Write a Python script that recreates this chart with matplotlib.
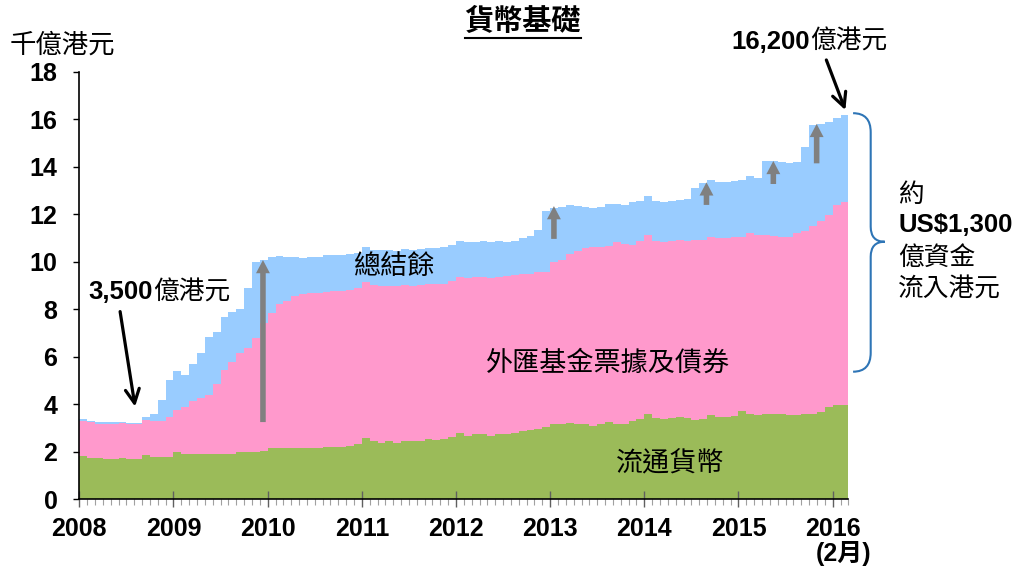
import numpy as np
import matplotlib.pyplot as plt
from matplotlib.patches import FancyArrowPatch, PathPatch, ArrowStyle
from matplotlib.path import Path
from matplotlib.lines import Line2D

plt.rcParams["font.family"] = ["Liberation Sans", "Noto Sans CJK TC"]
plt.rcParams["font.size"] = 18

GREEN, PINK, BLUE = "#9BBB59", "#FF99CC", "#99CCFF"
GREY, BRACE = "#808080", "#2E75B6"

# monthly data, Jan 2008 - Feb 2016 (千億港元)
start_year = 2008
currency = [  # 流通貨幣
    1.82, 1.75, 1.72, 1.69, 1.69, 1.72, 1.69, 1.69, 1.85, 1.76, 1.76, 1.78,
    1.99, 1.89, 1.89, 1.92, 1.89, 1.89, 1.89, 1.92, 1.99, 1.99, 1.99, 2.03,
    2.14, 2.17, 2.17, 2.17, 2.14, 2.17, 2.17, 2.21, 2.21, 2.21, 2.24, 2.31,
    2.56, 2.44, 2.39, 2.44, 2.39, 2.44, 2.44, 2.44, 2.52, 2.48, 2.53, 2.61,
    2.80, 2.68, 2.73, 2.73, 2.68, 2.76, 2.73, 2.80, 2.87, 2.90, 2.94, 3.04,
    3.15, 3.15, 3.22, 3.15, 3.15, 3.10, 3.15, 3.25, 3.18, 3.18, 3.29, 3.39,
    3.60, 3.42, 3.39, 3.42, 3.46, 3.42, 3.35, 3.39, 3.53, 3.46, 3.46, 3.50,
    3.71, 3.57, 3.56, 3.60, 3.57, 3.57, 3.53, 3.56, 3.60, 3.57, 3.66, 3.88,
    3.95, 3.95]
fx_bills = [  # 外匯基金票據及債券
    1.46, 1.50, 1.46, 1.49, 1.49, 1.49, 1.49, 1.49, 1.47, 1.52, 1.52, 1.67,
    1.78, 1.99, 2.23, 2.34, 2.52, 2.97, 3.56, 3.85, 4.17, 4.38, 4.79, 5.37,
    5.71, 6.05, 6.16, 6.37, 6.50, 6.53, 6.53, 6.53, 6.56, 6.57, 6.57, 6.57,
    6.57, 6.58, 6.59, 6.54, 6.57, 6.58, 6.54, 6.58, 6.53, 6.57, 6.53, 6.59,
    6.57, 6.63, 6.61, 6.64, 6.63, 6.61, 6.67, 6.64, 6.61, 6.58, 6.61, 6.54,
    6.82, 6.93, 7.10, 7.31, 7.42, 7.53, 7.48, 7.42, 7.63, 7.56, 7.42, 7.49,
    7.53, 7.46, 7.45, 7.46, 7.45, 7.46, 7.57, 7.52, 7.52, 7.53, 7.52, 7.52,
    7.35, 7.65, 7.57, 7.53, 7.51, 7.49, 7.53, 7.66, 7.70, 7.93, 8.06, 8.09,
    8.43, 8.57]
aggregate_balance = [  # 總結餘
    0.08, 0.03, 0.06, 0.06, 0.06, 0.03, 0.03, 0.03, 0.13, 0.33, 0.88, 1.58,
    1.61, 1.37, 1.58, 1.90, 2.44, 2.17, 2.21, 2.13, 1.85, 2.52, 3.19, 2.67,
    2.33, 2.02, 1.88, 1.67, 1.53, 1.50, 1.51, 1.53, 1.52, 1.51, 1.51, 1.48,
    1.49, 1.48, 1.50, 1.52, 1.50, 1.51, 1.52, 1.51, 1.52, 1.52, 1.54, 1.49,
    1.50, 1.50, 1.47, 1.51, 1.50, 1.51, 1.45, 1.44, 1.50, 1.61, 1.79, 2.56,
    2.28, 2.23, 2.07, 1.89, 1.74, 1.64, 1.68, 1.75, 1.61, 1.65, 1.80, 1.68,
    1.64, 1.68, 1.68, 1.68, 1.68, 1.74, 2.19, 2.42, 2.38, 2.37, 2.38, 2.38,
    2.39, 2.38, 2.39, 3.11, 3.14, 3.14, 3.11, 2.98, 3.53, 4.24, 4.06, 3.91,
    3.66, 3.66]
years = list(range(2008, 2017))

# grey inflow arrows: position, start, end
inflow_x = [2009.95, 2013.04, 2014.66, 2015.37, 2015.83]
inflow_from = [3.25, 10.96, 12.39, 13.27, 14.14]
inflow_to = [10.07, 12.34, 13.34, 14.24, 15.80]

cur = np.array(currency)
fx = np.array(fx_bills)
agg = np.array(aggregate_balance)
n = len(cur)
x = start_year + np.arange(n + 1) / 12
def edge(a):
    return np.append(a, a[-1])

fig = plt.figure(figsize=(10.21, 5.72), dpi=100)
ax = fig.add_axes([0.0777, 0.1271, 0.7532, 0.7477])

# draw each layer from zero so no seams show between layers
ax.fill_between(x, 0, edge(cur + fx + agg), step="post", color=BLUE, lw=0)
ax.fill_between(x, 0, edge(cur + fx), step="post", color=PINK, lw=0)
ax.fill_between(x, 0, edge(cur), step="post", color=GREEN, lw=0)

ax.set_xlim(start_year, start_year + n / 12)
ax.set_ylim(0, 18)
ax.set_yticks(range(0, 19, 2))
ax.set_xticks(years)
ax.set_xticks(start_year + np.arange(n + 1) / 12, minor=True)
for lab in ax.get_xticklabels() + ax.get_yticklabels():
    lab.set_fontweight("bold")
    lab.set_fontsize(18)
ax.tick_params(axis="y", direction="out", length=4.3, width=1, pad=11.5)
ax.tick_params(axis="x", which="major", direction="inout", length=11,
               width=1, color="#606060", pad=7)
ax.tick_params(axis="x", which="minor", direction="out", length=4.5,
               width=0.8, color="#A0A0A0")
for s in ("top", "right"):
    ax.spines[s].set_visible(False)
for s in ("left", "bottom"):
    ax.spines[s].set_linewidth(1.2)

ax.text(2016 + 1 / 12 + 0.03, -0.1256, "(2月)", transform=ax.get_xaxis_transform(),
        ha="center", va="center", fontsize=18, fontweight="bold")

for xi, y0, y1 in zip(inflow_x, inflow_from, inflow_to):
    ax.add_patch(FancyArrowPatch((xi, y0), (xi, y1),
                 arrowstyle=ArrowStyle.Simple(head_length=0.95, head_width=1.0, tail_width=0.4),
                 mutation_scale=10, color=GREY, lw=0, shrinkA=0, shrinkB=0, zorder=4))

# series labels
ax.text(2011.34, 9.76, "總結餘", ha="center", va="center", fontsize=19.5)
ax.text(2013.62, 5.69, "外匯基金票據及債券", ha="center", va="center", fontsize=19.5)
ax.text(2014.27, 1.48, "流通貨幣", ha="center", va="center", fontsize=19.5)

# call-outs
blk = ArrowStyle("->", head_length=0.5, head_width=0.25)
ax.text(2008.784, 8.72, "3,500", ha="right", va="center", fontsize=18.5, fontweight="bold")
ax.text(2008.784, 8.72, "億港元", ha="left", va="center", fontsize=18.5)
ax.add_patch(FancyArrowPatch((2008.433, 7.90), (2008.592, 3.90), arrowstyle=blk,
             mutation_scale=20, color="black", lw=2.3, shrinkA=0, shrinkB=0))
ax.text(2015.763, 19.26, "16,200", ha="right", va="center", fontsize=18.5,
        fontweight="bold", clip_on=False)
ax.text(2015.763, 19.26, "億港元", ha="left", va="center", fontsize=18.5, clip_on=False)
ax.add_patch(FancyArrowPatch((2015.933, 18.49), (2016.135, 16.38), arrowstyle=blk,
             mutation_scale=20, color="black", lw=2.3, shrinkA=0, shrinkB=0,
             clip_on=False))

# brace on the right
bx0, bx1, bx2 = 2016.217, 2016.404, 2016.553
btop, bmid, bbot, bcurl = 16.25, 10.84, 5.37, 0.8
verts = [(bx0, btop), (bx1, btop), (bx1, btop - bcurl),
         (bx1, bmid + 0.63), (bx1, bmid), (bx2, bmid),
         (bx1, bmid), (bx1, bmid - 0.63),
         (bx1, bbot + bcurl), (bx1, bbot), (bx0, bbot)]
codes = [Path.MOVETO, Path.CURVE3, Path.CURVE3,
         Path.LINETO, Path.CURVE3, Path.CURVE3,
         Path.CURVE3, Path.CURVE3,
         Path.LINETO, Path.CURVE3, Path.CURVE3]
ax.add_patch(PathPatch(Path(verts, codes), fill=False, edgecolor=BRACE, lw=1.5,
                       clip_on=False))
ax.text(2016.696, 12.81, "約", ha="left", va="center", fontsize=18.5, clip_on=False)
ax.text(2016.696, 11.55, "US$1,300", ha="left", va="center", fontsize=18.5,
        fontweight="bold", clip_on=False)
ax.text(2016.696, 10.15, "億資金", ha="left", va="center", fontsize=18.5, clip_on=False)
ax.text(2016.696, 8.81, "流入港元", ha="left", va="center", fontsize=18.5, clip_on=False)

# unit and title
fig.text(0.0098, 0.921, "千億港元", ha="left", va="center", fontsize=19)
title = fig.text(0.512, 0.962, "貨幣基礎", ha="center", va="center", fontsize=21,
                 fontweight="bold")
renderer = fig.canvas.get_renderer()
bb = title.get_window_extent(renderer).transformed(fig.transFigure.inverted())
fig.add_artist(Line2D([bb.x0, bb.x1], [bb.y0 - 0.004, bb.y0 - 0.004],
                      transform=fig.transFigure, color="black", lw=1.5))

fig.savefig("out.png", dpi=100)
